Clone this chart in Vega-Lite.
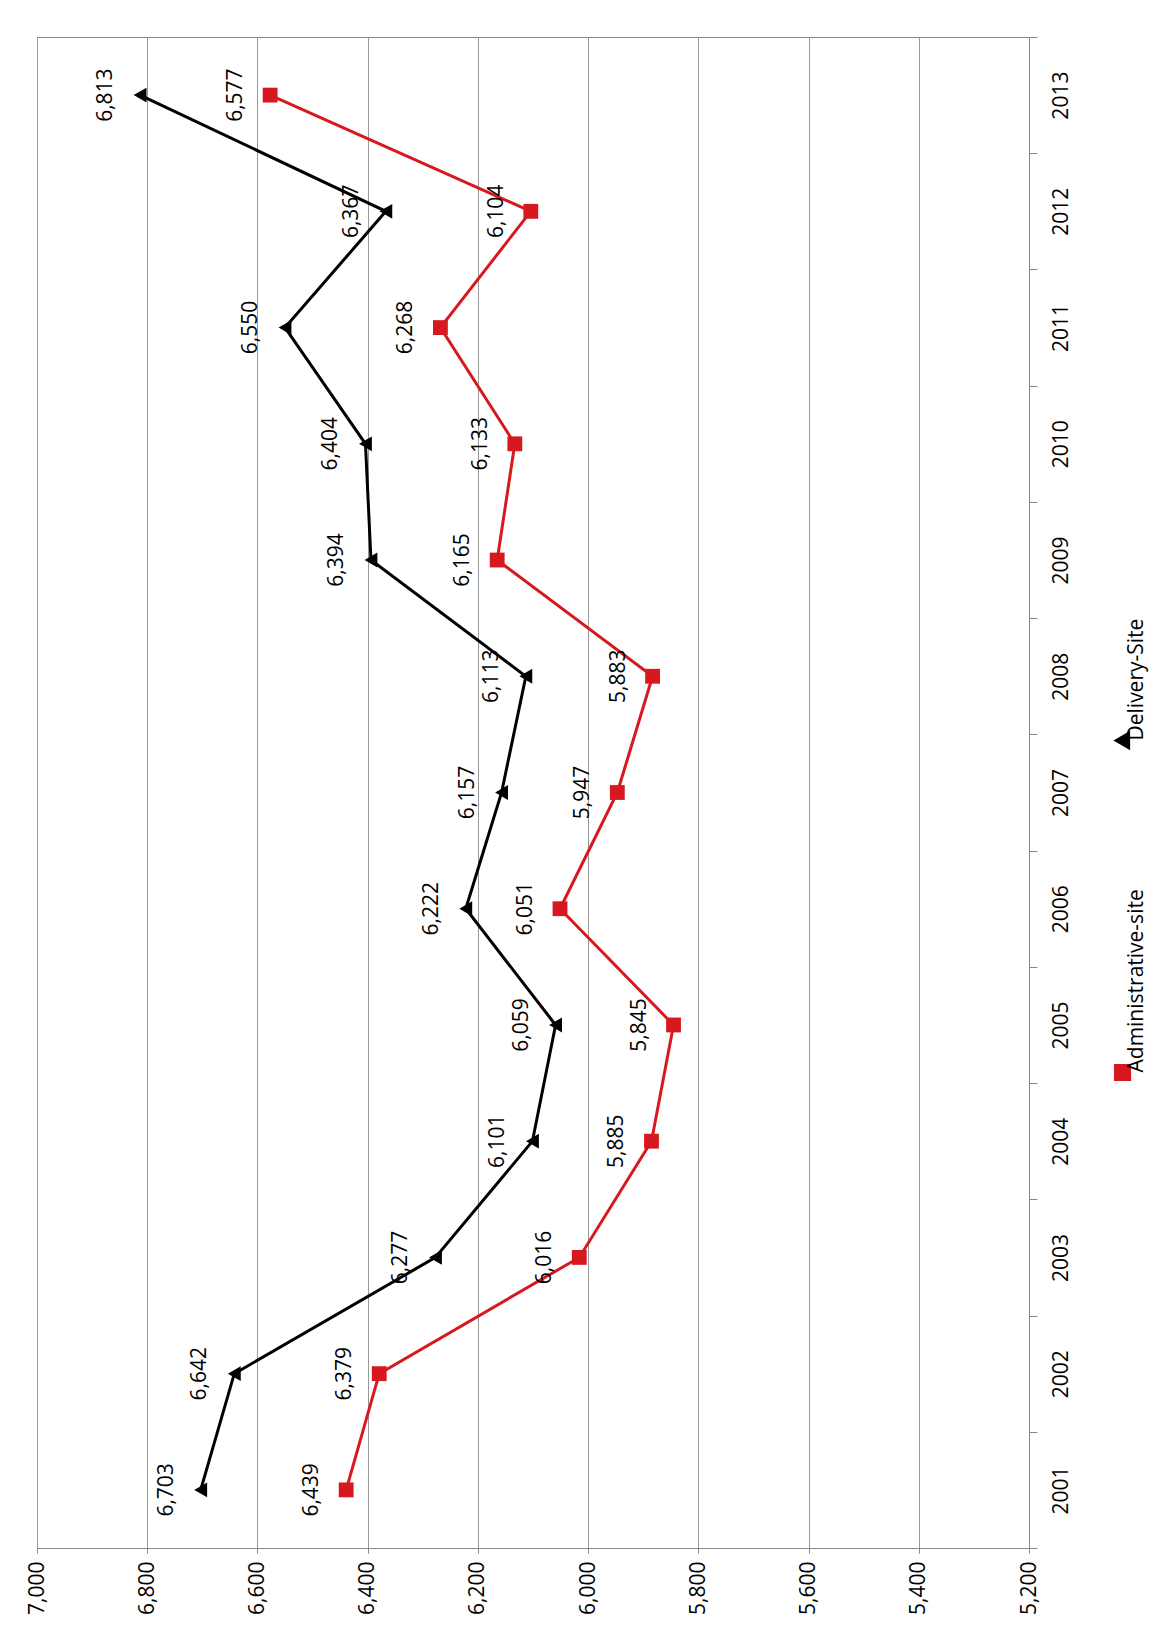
{
"$schema":"https://vega.github.io/schema/vega-lite/v6.json",
"width":992,"height":1511,
"autosize":{"type":"none"},
"padding":{"left":37,"top":37,"right":127,"bottom":100},
"background":"white",
"config":{"view":{"stroke":"#888"},"font":"Open Sans"},
"data":{"values":[
{"year":"2001","series":"Administrative-site","v":6439},{"year":"2002","series":"Administrative-site","v":6379},{"year":"2003","series":"Administrative-site","v":6016},{"year":"2004","series":"Administrative-site","v":5885},{"year":"2005","series":"Administrative-site","v":5845},{"year":"2006","series":"Administrative-site","v":6051},{"year":"2007","series":"Administrative-site","v":5947},{"year":"2008","series":"Administrative-site","v":5883},{"year":"2009","series":"Administrative-site","v":6165},{"year":"2010","series":"Administrative-site","v":6133},{"year":"2011","series":"Administrative-site","v":6268},{"year":"2012","series":"Administrative-site","v":6104},{"year":"2013","series":"Administrative-site","v":6577},
{"year":"2001","series":"Delivery-Site","v":6703},{"year":"2002","series":"Delivery-Site","v":6642},{"year":"2003","series":"Delivery-Site","v":6277},{"year":"2004","series":"Delivery-Site","v":6101},{"year":"2005","series":"Delivery-Site","v":6059},{"year":"2006","series":"Delivery-Site","v":6222},{"year":"2007","series":"Delivery-Site","v":6157},{"year":"2008","series":"Delivery-Site","v":6113},{"year":"2009","series":"Delivery-Site","v":6394},{"year":"2010","series":"Delivery-Site","v":6404},{"year":"2011","series":"Delivery-Site","v":6550},{"year":"2012","series":"Delivery-Site","v":6367},{"year":"2013","series":"Delivery-Site","v":6813}
]},
"encoding":{
"x":{"field":"v","type":"quantitative","scale":{"domain":[5200,7000],"reverse":true,"nice":false},
 "axis":{"title":null,"tickCount":9,"labelAngle":-90,"labelFontSize":21,"labelAlign":"right","labelBaseline":"middle","format":",.0f","gridColor":"#999","domainColor":"#888","tickColor":"#888","labelColor":"#000","labelPadding":8,"labelOverlap":false}},
"y":{"field":"year","type":"ordinal","sort":"descending","scale":{"paddingInner":0,"paddingOuter":0},
 "axis":{"title":null,"orient":"right","labelAngle":-90,"labelAlign":"center","labelBaseline":"middle","labelFontSize":21,"labelPadding":24,"tickBand":"extent","tickSize":8,"domainColor":"#888","tickColor":"#888","labelColor":"#000"}},
"color":{"field":"series","type":"nominal","scale":{"domain":["Delivery-Site","Administrative-site"],"range":["#000000","#d7191f"]},
 "legend":{"title":null,"orient":"none","legendX":1075,"legendY":693,"direction":"vertical","rowPadding":135,"labelFontSize":21,"labelLimit":0,"symbolSize":200,"symbolStrokeWidth":3,"labelColor":"#000","padding":0,
  "encode":{"labels":{"update":{"angle":{"value":-90},"align":{"value":"left"},"baseline":{"value":"middle"}}}}}}
},
"layer":[
{"mark":{"type":"line","strokeWidth":3}},
{"mark":{"type":"point","filled":true,"size":220,"opacity":1},"encoding":{"shape":{"field":"series","type":"nominal","scale":{"domain":["Delivery-Site","Administrative-site"],"range":["triangle-left","square"]},"legend":null}}},
{"mark":{"type":"text","angle":-90,"fontSize":21,"xOffset":-34,"color":"#000"},"encoding":{"text":{"field":"v","type":"quantitative","format":","},"color":{"value":"#000"}}}
]
}
